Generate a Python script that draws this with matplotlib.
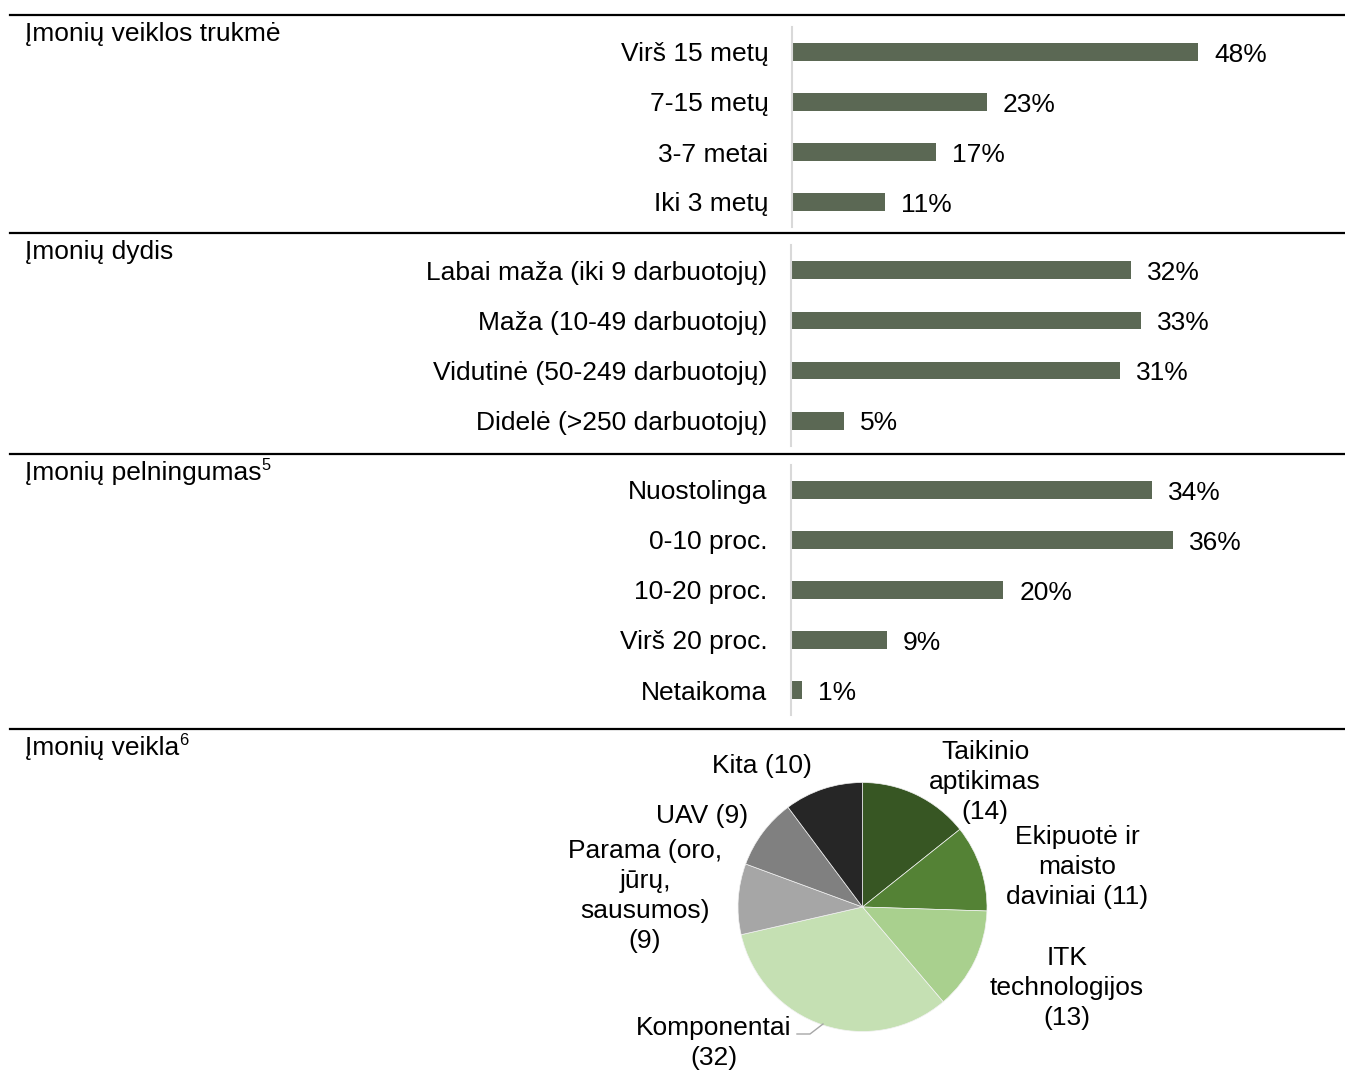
import matplotlib
matplotlib.use("Agg")
import matplotlib.pyplot as plt
from matplotlib.lines import Line2D

plt.rcParams['font.family'] = ['Liberation Sans', 'DejaVu Sans']

# ---------------- data ----------------
sec1_title = "Įmonių veiklos trukmė"
sec1_cats = ["Virš 15 metų", "7-15 metų", "3-7 metai", "Iki 3 metų"]
sec1_vals = [48, 23, 17, 11]

sec2_title = "Įmonių dydis"
sec2_cats = ["Labai maža (iki 9 darbuotojų)", "Maža (10-49 darbuotojų)",
             "Vidutinė (50-249 darbuotojų)", "Didelė (>250 darbuotojų)"]
sec2_vals = [32, 33, 31, 5]

sec3_title = "Įmonių pelningumas"
sec3_sup = "5"
sec3_cats = ["Nuostolinga", "0-10 proc.", "10-20 proc.", "Virš 20 proc.", "Netaikoma"]
sec3_vals = [34, 36, 20, 9, 1]

sec4_title = "Įmonių veikla"
sec4_sup = "6"
pie_labels = ["Taikinio\naptikimas\n(14)", "Ekipuotė ir\nmaisto\ndaviniai (11)",
              "ITK\ntechnologijos\n(13)", "Komponentai\n(32)",
              "Parama (oro,\njūrų,\nsausumos)\n(9)", "UAV (9)", "Kita (10)"]
pie_vals = [14, 11, 13, 32, 9, 9, 10]
pie_colors = ["#375623", "#548235", "#A9D08E", "#C5E0B3", "#A6A6A6", "#808080", "#262626"]

BAR_COLOR = "#5B6854"
FS = 19

W, H = 1345, 1083
fig = plt.figure(figsize=(W / 100, H / 100), dpi=100)


def px_axes(x0, y0, x1, y1):
    return fig.add_axes([x0 / W, 1 - y1 / H, (x1 - x0) / W, (y1 - y0) / H])


def fx(x):
    return x / W


def fy(y):
    return 1 - y / H


# separators
for yy in [14.5, 233, 454, 729]:
    fig.add_artist(Line2D([fx(10), fx(1345)], [fy(yy), fy(yy)], color="black", lw=1.6,
                          transform=fig.transFigure))

renderer = fig.canvas.get_renderer()


def title(txt, y, sup=None):
    t = fig.text(fx(25), fy(y), txt, fontsize=FS, va="center_baseline", ha="left")
    if sup:
        bb = t.get_window_extent(renderer=renderer)
        fig.text(bb.x1 / W, fy(y - 6), sup, fontsize=FS * 0.62, va="center_baseline", ha="left")


def bar_section(x0, y0, y1, px_per_unit, cats, vals):
    xmax = 60
    ax = px_axes(x0, y0, x0 + xmax * px_per_unit, y1)
    pos = list(range(len(cats)))
    ax.barh(pos, vals, height=0.35, color=BAR_COLOR)
    ax.set_ylim(len(cats) - 0.5, -0.5)
    ax.set_xlim(0, xmax)
    ax.set_yticks(pos)
    ax.set_yticklabels(cats, fontsize=FS)
    ax.tick_params(axis="y", length=0, pad=17)
    ax.set_xticks([])
    for s in ["top", "right", "bottom"]:
        ax.spines[s].set_visible(False)
    ax.spines["left"].set_color("#D9D9D9")
    ax.spines["left"].set_linewidth(1.5)
    ax.patch.set_alpha(0)
    for p, v in zip(pos, vals):
        ax.annotate(f"{v}%", (v, p), xytext=(11.5, 0), textcoords="offset points",
                    va="center_baseline", ha="left", fontsize=FS)
    return ax


title(sec1_title, 31)
bar_section(792, 27, 227, 8.46, sec1_cats, sec1_vals)

title(sec2_title, 249)
bar_section(791, 245, 446, 10.62, sec2_cats, sec2_vals)

title(sec3_title, 470, sec3_sup)
bar_section(791, 465, 715, 10.62, sec3_cats, sec3_vals)

title(sec4_title, 745, sec4_sup)

# pie
cx, cy, r = 862.5, 907, 124.5
pax = px_axes(cx - r, cy - r, cx + r, cy + r)
pax.pie(pie_vals, colors=pie_colors, startangle=90, counterclock=False, radius=1,
        wedgeprops=dict(edgecolor="#F2F2F2", linewidth=0.5))
pax.set_xlim(-1, 1)
pax.set_ylim(-1, 1)
pax.set_aspect("equal")
pax.axis("off")

label_pos = [(985, 782), (1077, 867), (1067, 988), (714, 1043), (645, 896), (702, 816), (762, 766)]
for lab, (lx, ly) in zip(pie_labels, label_pos):
    fig.text(fx(lx), fy(ly), lab, fontsize=FS, ha="center", va="center",
             multialignment="center", linespacing=1.33)

# leader line for Komponentai
fig.add_artist(Line2D([fx(797), fx(810), fx(823)], [fy(1034), fy(1034), fy(1024)],
                      color="#A6A6A6", lw=1.0, transform=fig.transFigure))

fig.savefig("out.png", dpi=100)
